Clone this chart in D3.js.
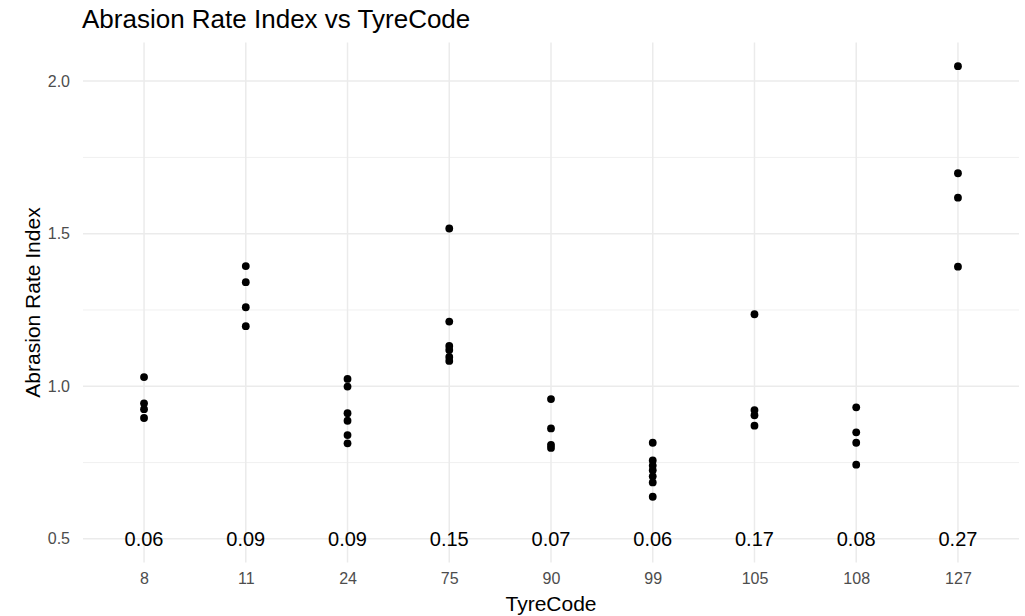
<!DOCTYPE html>
<html>
<head>
<meta charset="utf-8">
<script src="https://cdn.jsdelivr.net/npm/d3@7"></script>
<style>
  body { margin: 0; background: #fff; }
  text { font-family: "Liberation Sans", Arial, sans-serif; }
</style>
</head>
<body>
<svg id="chart"></svg>
<script>
// tyre codes on the x axis
let tyreCodes = ["8", "11", "24", "75", "90", "99", "105", "108", "127"];

// abrasion rate index per tyre code (one entry per measurement)
let abrasion8   = [1.030, 0.944, 0.925, 0.896];
let abrasion11  = [1.394, 1.341, 1.259, 1.197];
let abrasion24  = [1.024, 0.999, 0.912, 0.887, 0.840, 0.813];
let abrasion75  = [1.517, 1.212, 1.132, 1.119, 1.096, 1.083];
let abrasion90  = [0.958, 0.862, 0.808, 0.798];
let abrasion99  = [0.815, 0.757, 0.740, 0.725, 0.705, 0.685, 0.638];
let abrasion105 = [1.236, 0.922, 0.905, 0.871];
let abrasion108 = [0.931, 0.849, 0.815, 0.743];
let abrasion127 = [2.049, 1.698, 1.618, 1.392];

// text shown near the bottom of each column
let rateLabels = ["0.06", "0.09", "0.09", "0.15", "0.07", "0.06", "0.17", "0.08", "0.27"];
let labelY = 0.5;

let yTicks = [0.5, 1.0, 1.5, 2.0];
let yMinor = [0.75, 1.25, 1.75];

let width = 1025, height = 616;
let panel = {left: 83, right: 1019, top: 42.5, bottom: 562.5};

let svg = d3.select("#chart")
  .attr("width", width)
  .attr("height", height);

let groups = [abrasion8, abrasion11, abrasion24, abrasion75, abrasion90,
              abrasion99, abrasion105, abrasion108, abrasion127];
let points = [];
groups.forEach(function(vals, i) {
  vals.forEach(function(v) { points.push({code: tyreCodes[i], value: v}); });
});

let x = d3.scalePoint()
  .domain(tyreCodes)
  .range([panel.left, panel.right])
  .padding(0.6);

// ggplot style 5% expansion
let allVals = points.map(d => d.value).concat([labelY]);
let lo = d3.min(allVals), hi = d3.max(allVals);
let pad = (hi - lo) * 0.05;
let y = d3.scaleLinear()
  .domain([lo - pad, hi + pad])
  .range([panel.bottom, panel.top]);

// grid
let grid = svg.append("g");
grid.selectAll(".minor")
  .data(yMinor)
  .enter()
  .append("line")
  .attr("x1", panel.left).attr("x2", panel.right)
  .attr("y1", d => y(d)).attr("y2", d => y(d))
  .attr("stroke", "#f0f0f0")
  .attr("stroke-width", 1);

grid.selectAll(".major")
  .data(yTicks)
  .enter()
  .append("line")
  .attr("x1", panel.left).attr("x2", panel.right)
  .attr("y1", d => y(d)).attr("y2", d => y(d))
  .attr("stroke", "#ebebeb")
  .attr("stroke-width", 1.5);

grid.selectAll(".vert")
  .data(tyreCodes)
  .enter()
  .append("line")
  .attr("x1", d => x(d)).attr("x2", d => x(d))
  .attr("y1", panel.top).attr("y2", panel.bottom)
  .attr("stroke", "#ebebeb")
  .attr("stroke-width", 1.5);

// y axis tick labels
let yAxis = svg.append("g")
  .attr("transform", "translate(" + (panel.left - 10) + ",0)")
  .call(d3.axisLeft(y).tickValues(yTicks).tickFormat(d3.format(".1f")).tickSize(0));
yAxis.select(".domain").remove();
yAxis.selectAll("text")
  .attr("fill", "#4d4d4d")
  .attr("font-size", 16)
  .attr("font-family", "Liberation Sans, Arial, sans-serif");

// x axis tick labels
let xAxis = svg.append("g")
  .attr("transform", "translate(0," + (panel.bottom + 7) + ")")
  .call(d3.axisBottom(x).tickSize(0));
xAxis.select(".domain").remove();
xAxis.selectAll("text")
  .attr("fill", "#4d4d4d")
  .attr("font-size", 16)
  .attr("font-family", "Liberation Sans, Arial, sans-serif");

// points
svg.append("g")
  .selectAll("circle")
  .data(points)
  .enter()
  .append("circle")
  .attr("cx", d => x(d.code))
  .attr("cy", d => y(d.value))
  .attr("r", 3.9)
  .attr("fill", "#000");

// rate labels
svg.append("g")
  .selectAll("text")
  .data(rateLabels)
  .enter()
  .append("text")
  .attr("x", (d, i) => x(tyreCodes[i]))
  .attr("y", y(labelY))
  .attr("text-anchor", "middle")
  .attr("dominant-baseline", "central")
  .attr("font-size", 20)
  .attr("fill", "#000")
  .text(d => d);

// titles
svg.append("text")
  .attr("x", 82)
  .attr("y", 28)
  .attr("font-size", 26)
  .attr("fill", "#000")
  .text("Abrasion Rate Index vs TyreCode");

svg.append("text")
  .attr("x", (panel.left + panel.right) / 2)
  .attr("y", 611)
  .attr("text-anchor", "middle")
  .attr("font-size", 21)
  .attr("fill", "#000")
  .text("TyreCode");

svg.append("text")
  .attr("transform", "translate(40," + ((panel.top + panel.bottom) / 2) + ") rotate(-90)")
  .attr("text-anchor", "middle")
  .attr("font-size", 21)
  .attr("fill", "#000")
  .text("Abrasion Rate Index");
</script>
</body>
</html>
